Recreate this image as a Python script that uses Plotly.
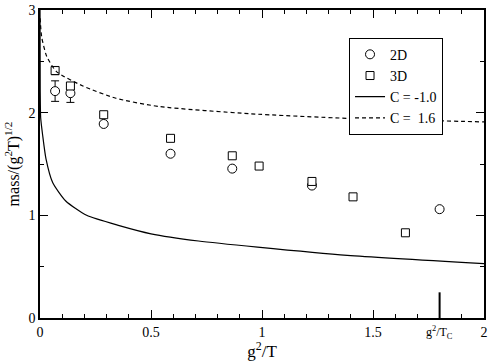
import plotly.graph_objects as go

# 2D data
x_2d = [0.068, 0.137, 0.287, 0.588, 0.866, 1.225, 1.80]
y_2d = [2.21, 2.19, 1.89, 1.60, 1.455, 1.29, 1.06]
err_2d = [0.10, 0.09]  # only the first points have error bars

# 3D data
x_3d = [0.068, 0.137, 0.287, 0.588, 0.866, 0.987, 1.225, 1.41, 1.646]
y_3d = [2.41, 2.26, 1.98, 1.75, 1.58, 1.48, 1.33, 1.18, 0.83]
err_3d = [0.04, 0.03]

# curves
x_cm1 = [0.0001, 0.001, 0.003, 0.012, 0.027, 0.057, 0.116, 0.21, 0.357, 0.5, 0.714, 0.98, 1.384, 2.0]
y_cm1 = [3.0, 2.2, 1.95, 1.78, 1.55, 1.32, 1.14, 1.0, 0.90, 0.82, 0.75, 0.69, 0.61, 0.53]

x_c16 = [0.0005, 0.0074, 0.03, 0.074, 0.193, 0.342, 0.536, 0.94, 1.384, 2.0]
y_c16 = [2.92, 2.74, 2.55, 2.40, 2.26, 2.14, 2.06, 1.99, 1.945, 1.91]

x_tc = [1.8, 1.8]
y_tc = [0, 0.25]

fig = go.Figure()
# error bars first so the markers sit on top of them
fig.add_trace(go.Scatter(x=x_2d[:len(err_2d)], y=y_2d[:len(err_2d)], mode="markers", showlegend=False,
                         marker=dict(size=1, color="rgba(0,0,0,0)"),
                         error_y=dict(type="data", array=err_2d, color="black", thickness=1, width=4)))
fig.add_trace(go.Scatter(x=x_3d[:len(err_3d)], y=y_3d[:len(err_3d)], mode="markers", showlegend=False,
                         marker=dict(size=1, color="rgba(0,0,0,0)"),
                         error_y=dict(type="data", array=err_3d, color="black", thickness=1, width=4)))
fig.add_trace(go.Scatter(x=x_2d, y=y_2d, mode="markers", name="2D",
                         marker=dict(symbol="circle", size=9, color="white", line=dict(width=1, color="black"))))
fig.add_trace(go.Scatter(x=x_3d, y=y_3d, mode="markers", name="3D",
                         marker=dict(symbol="square", size=8, color="white", line=dict(width=1, color="black"))))
fig.add_trace(go.Scatter(x=x_cm1, y=y_cm1, mode="lines", name="C = -1.0",
                         line=dict(color="black", width=1.2, shape="spline", smoothing=0.6)))
fig.add_trace(go.Scatter(x=x_c16, y=y_c16, mode="lines", name="C =\u00a0\u00a01.6",
                         line=dict(color="black", width=1.2, dash="4px,3px", shape="spline", smoothing=0.6)))
fig.add_trace(go.Scatter(x=x_tc, y=y_tc, mode="lines", showlegend=False,
                         line=dict(color="black", width=2)))

fig.add_annotation(x=1.8, y=0, yref="y", text="g<sup>2</sup>/T<sub>C</sub>", showarrow=False,
                   yanchor="top", yshift=-4, font=dict(size=12))

ax = dict(showgrid=False, zeroline=False, showline=True, mirror="allticks", linecolor="black",
          linewidth=1.5, ticks="inside", ticklen=8, tickcolor="black", ticklabeloverflow="allow",
          minor=dict(ticks="inside", ticklen=4, tickcolor="black"))

fig.update_xaxes(range=[0, 2], tickvals=[0, 0.5, 1, 1.5, 2], ticktext=["0", "0.5", "1", "1.5", "2"],
                 minor_dtick=0.1, title=dict(text="g<sup>2</sup>/T", font=dict(size=17), standoff=4), **ax)
fig.update_yaxes(range=[0, 3], tickvals=[0, 1, 2, 3], minor_dtick=0.5,
                 title=dict(text="mass/(g<sup>2</sup>T)<sup>1/2</sup>", font=dict(size=16), standoff=5), **ax)

fig.update_layout(width=491, height=361, margin=dict(l=40, r=3, t=6, b=43),
                  plot_bgcolor="white", paper_bgcolor="white",
                  font=dict(family="Liberation Serif", size=14, color="black"),
                  legend=dict(x=0.696, y=0.91, xanchor="left", yanchor="top", bgcolor="white",
                              bordercolor="black", borderwidth=1, font=dict(size=14),
                              itemwidth=30, tracegroupgap=0))
fig.write_html("out.html", config={"displayModeBar": False},
               post_script="document.body.style.margin='0';")
